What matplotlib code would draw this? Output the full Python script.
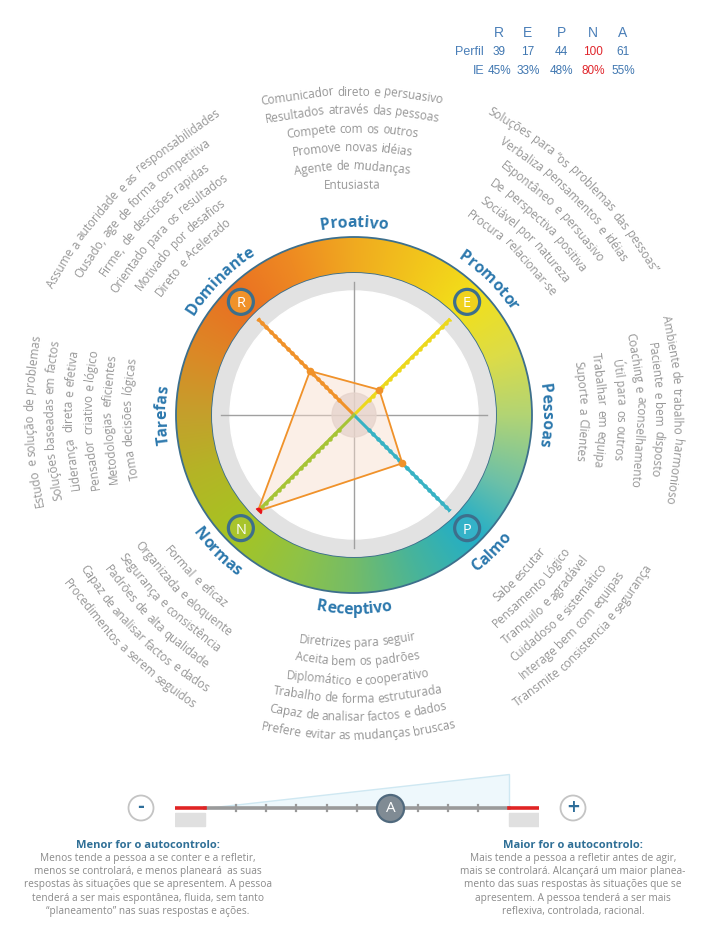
import numpy as np
import matplotlib
matplotlib.use("Agg")
import matplotlib.pyplot as plt
from matplotlib.patches import Wedge, Circle, Polygon, Rectangle
from matplotlib.colors import to_rgb
from matplotlib.font_manager import FontProperties
from matplotlib.textpath import text_to_path

# ---------------- data ----------------
profile_letters = ["R", "E", "P", "N", "A"]
perfil_values = [39, 17, 44, 100, 61]
ie_values = [45, 33, 48, 80, 55]
highlight_letter = "N"

radar_letters = ["R", "E", "P", "N"]
radar_angles_deg = [135, 45, -45, -135]
spoke_colors = ["#f0922a", "#ecd81e", "#38b2c4", "#a6c436"]
badge_colors = ["#f0922a", "#f0d21c", "#34b2c8", "#a8c42c"]

category_labels = ["Proativo", "Promotor", "Pessoas", "Calmo",
                   "Receptivo", "Normas", "Tarefas", "Dominante"]
category_angles = [90, 45, 0, -45, -90, -135, 180, 135]

proativo_desc = ["Comunicador direto e persuasivo", "Resultados através das pessoas",
                 "Compete com os outros", "Promove novas idéias",
                 "Agente de mudanças", "Entusiasta"]
dominante_desc = ["Assume a autoridade e as responsabilidades",
                  "Ousado, age de forma competitiva", "Firme, de descisões rapidas",
                  "Orientado para os resultados", "Motivado por desafios",
                  "Direto e Acelerado"]
promotor_desc = ["Soluções para “os problemas das pessoas”",
                 "Verbaliza pensamentos e idéias", "Espontâneo e persuasivo",
                 "De perspectiva positiva", "Sociável por natureza",
                 "Procura relacionar-se"]
pessoas_desc = ["Ambiente de trabalho harmonioso", "Paciente e bem disposto",
                "Coaching e aconselhamento", "Útil para os outros",
                "Trabalhar em equipa", "Suporte a Clientes"]
tarefas_desc = ["Estudo e solução de problemas", "Soluções baseadas em factos",
                "Liderança direta e efetiva", "Pensador criativo e lógico",
                "Metodologias eficientes", "Toma decisões lógicas"]
normas_desc = ["Formal e eficaz", "Organizada e eloquente", "Segurança e consistência",
               "Padrões de alta qualidade", "Capaz de analisar factos e dados",
               "Procedimentos a serem seguidos"]
calmo_desc = ["Sabe escutar", "Pensamento Lógico", "Tranquilo e agradável",
              "Cuidadoso e sistemático", "Interage bem com equipas",
              "Transmite consistencia e segurança"]
receptivo_desc = ["Diretrizes para seguir", "Aceita bem os padrões",
                  "Diplomático e cooperativo", "Trabalho de forma estruturada",
                  "Capaz de analisar factos e dados",
                  "Prefere evitar as mudanças bruscas"]

menor_title = "Menor for o autocontrolo:"
menor_lines = ["Menos tende a pessoa a se conter e a refletir,",
               "menos se controlará, e menos planeará  as suas",
               "respostas às situações que se apresentem. A pessoa",
               "tenderá a ser mais espontânea, fluida, sem tanto",
               "“planeamento” nas suas respostas e ações."]
maior_title = "Maior for o autocontrolo:"
maior_lines = ["Mais tende a pessoa a refletir antes de agir,",
               "mais se controlará. Alcançará um maior planea-",
               "mento das suas respostas às situações que se",
               "apresentem. A pessoa tenderá a ser mais",
               "reflexiva, controlada, racional."]

# ---------------- style / layout ----------------
FONT = ["Open Sans", "DejaVu Sans"]
BLUE = "#2c78ad"
GRAY_TXT = "#969696"
RING_EDGE = "#3d6f8c"
W, H = 714, 925
CX, CY = 354, 415
R_OUT, R_IN = 178, 142
R_GRAY_IN = 124
PX_PER_PT = 100 / 72

fig = plt.figure(figsize=(W / 100, H / 100), dpi=100)
ax = fig.add_axes([0, 0, 1, 1])
ax.set_xlim(0, W)
ax.set_ylim(H, 0)
ax.axis("off")

_w_cache = {}


def adv(s, fp):
    key = (s, fp.get_size_in_points(), fp.get_weight())
    if key not in _w_cache:
        w1 = text_to_path.get_text_width_height_descent("n" + s + "n", fp, ismath=False)[0]
        w0 = text_to_path.get_text_width_height_descent("nn", fp, ismath=False)[0]
        _w_cache[key] = (w1 - w0) * PX_PER_PT
    return _w_cache[key]


def arc_text(txt, r_b, phi, size, color, weight="normal", outward=True,
             k=1.0, by_word=False, z=6):
    """Text along an arc whose apex is at distance r_b (baseline) from the ring
    centre in direction phi; curvature radius k*r_b."""
    fp = FontProperties(family=FONT, size=size, weight=weight)
    rho = k * r_b
    ph = np.radians(phi)
    ox = CX + (r_b - rho) * np.cos(ph)
    oy = CY - (r_b - rho) * np.sin(ph)
    if by_word:
        units = txt.split(" ")
        sp = adv(" ", fp)
        widths = [adv(u, fp) if u else 0.0 for u in units]
        gaps = [sp] * len(units)
    else:
        units = list(txt)
        widths = [adv(u, fp) for u in units]
        gaps = [0.0] * len(units)
    total = sum(widths) + sum(gaps[:-1])
    pos = 0.0
    for u, w, g in zip(units, widths, gaps):
        s = pos + w / 2
        pos += w + g
        if not u.strip():
            continue
        off = (s - total / 2) / rho
        if outward:
            ps = ph - off
            rot = np.degrees(ps) - 90
        else:
            ps = ph + off
            rot = np.degrees(ps) + 90
        x = ox + rho * np.cos(ps)
        y = oy - rho * np.sin(ps)
        ax.text(x, y, u, rotation=rot, rotation_mode="anchor", ha="center",
                va="baseline", fontproperties=fp, color=color, zorder=z)


# ---------------- ring with angular gradient ----------------
stops = [(-180, "#c4a02c"), (-160, "#b4b426"), (-135, "#a6c422"), (-110, "#8ec248"),
         (-90, "#74bc68"), (-68, "#48b49a"), (-45, "#22aec8"), (-25, "#6cc0a8"),
         (0, "#b2d474"), (22, "#dcdc48"), (45, "#f2e01a"), (68, "#f2c41c"),
         (90, "#f0aa20"), (112, "#ee8a22"), (135, "#ea7022"), (158, "#dc8826"),
         (180, "#c4a02c")]
sa = np.array([s[0] for s in stops], float)
sc = np.array([to_rgb(s[1]) for s in stops])
N = 500
xs = np.linspace(CX - R_OUT - 2, CX + R_OUT + 2, N)
ys = np.linspace(CY - R_OUT - 2, CY + R_OUT + 2, N)
XX, YY = np.meshgrid(xs, ys)
ang = np.degrees(np.arctan2(CY - YY, XX - CX))
img = np.dstack([np.interp(ang, sa, sc[:, k]) for k in range(3)])
im = ax.imshow(img, extent=(xs[0], xs[-1], ys[-1], ys[0]), origin="upper",
               interpolation="bilinear", zorder=1)
clip = Wedge((CX, CY), R_OUT, 0, 360, width=R_OUT - R_IN, transform=ax.transData)
im.set_clip_path(clip)
ax.add_patch(Circle((CX, CY), R_OUT, fill=False, ec=RING_EDGE, lw=1.3, zorder=2))
ax.add_patch(Circle((CX, CY), R_IN, fill=False, ec=RING_EDGE, lw=1.3, zorder=2))
ax.add_patch(Wedge((CX, CY), R_IN - 0.7, 0, 360, width=R_IN - R_GRAY_IN, color="#e2e2e2", zorder=2))
ax.add_patch(Circle((CX, CY), R_GRAY_IN, color="white", zorder=2))

# crosshair and centre disk
ax.plot([CX - 133, CX + 133], [CY, CY], color="#a0a0a0", lw=1, zorder=3)
ax.plot([CX, CX], [CY - 133, CY + 133], color="#a0a0a0", lw=1, zorder=3)
ax.add_patch(Circle((CX, CY), 22, color="#d6cccc", alpha=0.75, zorder=3))

# badges
for L, a, c in zip(radar_letters, radar_angles_deg, badge_colors):
    bx = CX + 160 * np.cos(np.radians(a))
    by = CY - 160 * np.sin(np.radians(a))
    ax.add_patch(Circle((bx, by), 12.5, fc=c, ec=RING_EDGE, lw=2.3, zorder=4))
    ax.text(bx, by, L, color="white", fontsize=10.5, ha="center", va="center_baseline",
            family=FONT, zorder=5)

# category labels (baseline radius)
for lab, a in zip(category_labels, category_angles):
    outward = (a >= 0 or a == 180)
    arc_text(lab, 188 if outward else 199, a, 11.3, BLUE, weight="bold", outward=outward)

# descriptor groups: (lines, centre angle, inner radius, outer radius, outward)
groups = [
    (proativo_desc, 90.4, 230, 323, True),
    (dominante_desc, 135.6, 228, 324, True),
    (promotor_desc, 45.8, 229, 328, True),
    (pessoas_desc, 1.0, 228, 323, True),
    (tarefas_desc, 181.0, 226, 324, True),
    (normas_desc, -134.4, 228, 328, False),
    (calmo_desc, -44.0, 231, 327, False),
    (receptivo_desc, -89.2, 228, 321, False),
]
for lines, a, r_in, r_out, outward in groups:
    n = len(lines)
    for i, line in enumerate(lines):
        if outward:   # listed outer -> inner, glyph tops point away from centre
            rc = r_out - i * (r_out - r_in) / (n - 1)
            rb = rc - 3.5
        else:         # listed inner -> outer, glyph tops point to centre
            rc = r_in + i * (r_out - r_in) / (n - 1)
            rb = rc + 3.5
        arc_text(line, rb, a, 8.5, GRAY_TXT, outward=outward, k=1.28, by_word=True)

# ---------------- radar (polar axes) ----------------
RAD = 136
pax = fig.add_axes([(CX - RAD) / W, (H - CY - RAD) / H, 2 * RAD / W, 2 * RAD / H],
                   projection="polar", zorder=5)
pax.set_ylim(-12.5, 100)
pax.axis("off")
pax.patch.set_alpha(0)
th = np.radians(radar_angles_deg)
vals = [perfil_values[profile_letters.index(L)] for L in radar_letters]
for t, c in zip(th, spoke_colors):
    pax.plot([t, t], [-12.5, 100], color=c, lw=2.2, solid_capstyle="round", zorder=3)
    pax.plot([t] * 20, np.linspace(5, 100, 20), "o", color=c, ms=2.2, zorder=3)
thc = np.append(th, th[0])
vc = np.append(vals, vals[0])
pax.fill(thc, vc, color="#f8dccb", alpha=0.45, zorder=2)
pax.plot(thc, vc, color="#f0922a", lw=1.3, zorder=4)
for t, v, L in zip(th, vals, radar_letters):
    col = "#e8141c" if L == highlight_letter else "#f0922a"
    pax.plot([t], [v], "o", color=col, ms=4.5, zorder=5)

# ---------------- table top right ----------------
col_x = [499, 528, 561, 593, 623]
for L, x in zip(profile_letters, col_x):
    ax.text(x, 33, L, ha="center", va="center", fontsize=10, color="#4a7fb8",
            family="Liberation Sans")
ax.text(484, 52, "Perfil", ha="right", va="center", fontsize=9, color="#4a7fb8",
        family="Liberation Sans")
ax.text(484, 71, "IE", ha="right", va="center", fontsize=9, color="#4a7fb8",
        family="Liberation Sans")
for L, x, pv, iv in zip(profile_letters, col_x, perfil_values, ie_values):
    c = "#e0262c" if L == highlight_letter else "#3f76b0"
    ax.text(x, 52, str(pv), ha="center", va="center", fontsize=8.5, color=c,
            family="Liberation Sans")
    ax.text(x, 71, f"{iv}%", ha="center", va="center", fontsize=8.5, color=c,
            family="Liberation Sans")

# ---------------- slider ----------------
SX0, SX1 = 175, 539
sax = fig.add_axes([SX0 / W, (H - 830) / H, (SX1 - SX0) / W, 75 / H], zorder=4)
sax.set_xlim(-10, 110)
sax.set_ylim(830, 755)
sax.axis("off")
sax.patch.set_alpha(0)
LY = 808
sax.add_patch(Polygon([(0, LY), (100, LY), (100, 774)], closed=True, fc="#eef8fc",
                      ec="#cfe8f2", lw=1, zorder=1))
sax.plot([0, 100], [LY, LY], color="#9a9a9a", lw=2.6, zorder=2)
sax.plot([-10, 0], [LY, LY], color="#e02424", lw=2.6, zorder=2)
sax.plot([100, 110], [LY, LY], color="#e02424", lw=2.6, zorder=2)
for v in range(10, 100, 10):
    sax.plot([v, v], [LY - 3, LY + 3], color="#9a9a9a", lw=1.6, zorder=2)
sax.add_patch(Rectangle((-10, 813), 10, 13, color="#e0e0e0", zorder=1))
sax.add_patch(Rectangle((100, 813), 10, 13, color="#e0e0e0", zorder=1))
a_val = perfil_values[profile_letters.index("A")]
sax.scatter([a_val], [LY], s=19.5 ** 2, c="#808b94", edgecolors="#50697d",
            linewidths=1.6, zorder=5)
sax.text(a_val, LY + 0.5, "A", color="white", fontsize=11, ha="center",
         va="center", family=FONT, zorder=6)

for x, sym in [(141, "-"), (573, "+")]:
    ax.add_patch(Circle((x, LY), 12.5, fc="white", ec="#c4c4c4", lw=1.3, zorder=3))
    ax.text(x, LY - 1, sym, color="#2e6e9a", fontsize=12, fontweight="bold",
            ha="center", va="center", family="DejaVu Sans", zorder=4)

# ---------------- bottom explanations ----------------
for cx, title, lines in [(148, menor_title, menor_lines), (573, maior_title, maior_lines)]:
    ax.text(cx, 845, title, ha="center", va="center", fontsize=8,
            fontweight="bold", color="#2f6f96", family=FONT)
    for i, l in enumerate(lines):
        ax.text(cx, 858.5 + i * 13.2, l, ha="center", va="center", fontsize=7.3,
                color="#8a8a8a", family=FONT)

fig.savefig("out.png", dpi=100)
